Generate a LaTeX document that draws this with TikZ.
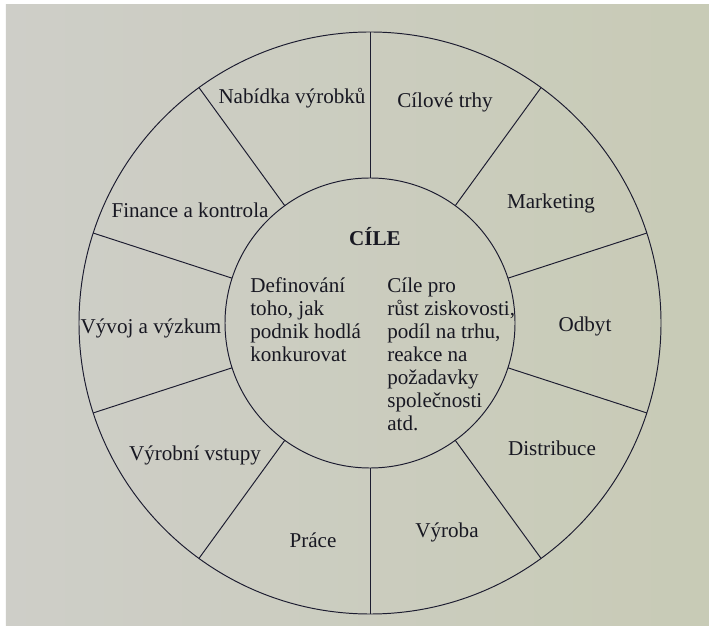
\documentclass[tikz,border=0pt]{standalone}
\usepackage{fontspec}
\setmainfont{Liberation Serif}
\usetikzlibrary{positioning}

\definecolor{inkline}{RGB}{28,28,48}
\definecolor{inktext}{RGB}{24,24,34}
\definecolor{paperl}{RGB}{206,206,200}
\definecolor{paperr}{RGB}{200,203,182}

\begin{document}
\begin{tikzpicture}[
	wheel/.style={draw=inkline,line width=0.55pt},
	lbl/.style={text=inktext,font=\fontsize{12}{13.1}\selectfont,inner sep=0pt},
	block/.style={lbl,align=left,anchor=north west}]
	\useasboundingbox (0,0) rectangle (14.18,12.5);
	\fill[white] (0,0) rectangle (14.18,12.5);
	\shade[left color=paperl,right color=paperr] (0.12,0) rectangle (14.18,12.40);

	\begin{scope}[shift={(7.40,6.04)}]
	\draw[wheel] (0,0) circle (5.82);
	\draw[wheel] (0,0) circle (2.90);

	\draw[wheel] (90:2.90) -- (90:5.82);
	\draw[wheel] (54:2.90) -- (54:5.82);
	\draw[wheel] (18:2.90) -- (18:5.82);
	\draw[wheel] (-18:2.90) -- (-18:5.82);
	\draw[wheel] (-54:2.90) -- (-54:5.82);
	\draw[wheel] (-90:2.90) -- (-90:5.82);
	\draw[wheel] (-126:2.90) -- (-126:5.82);
	\draw[wheel] (-162:2.90) -- (-162:5.82);
	\draw[wheel] (162:2.90) -- (162:5.82);
	\draw[wheel] (126:2.90) -- (126:5.82);
	\end{scope}

	% outer ring
	\node[lbl] (nabidka) at (5.84,10.54) {Nabídka výrobků};
	\node[lbl] (trhy) at (8.90,10.46) {Cílové trhy};
	\node[lbl] (marketing) at (11.02,8.44) {Marketing};
	\node[lbl] (odbyt) at (11.70,5.98) {Odbyt};
	\node[lbl] (distribuce) at (11.04,3.54) {Distribuce};
	\node[lbl] (vyroba) at (8.94,1.86) {Výroba};
	\node[lbl] (prace) at (6.26,1.70) {Práce};
	\node[lbl] (vstupy) at (3.90,3.40) {Výrobní vstupy};
	\node[lbl] (vyvoj) at (3.02,5.94) {Vývoj a výzkum};
	\node[lbl] (finance) at (3.80,8.30) {Finance a kontrola};

	% centre
	\node[lbl,font=\fontsize{12}{13.1}\selectfont\bfseries] (cile) at (7.50,7.76) {CÍLE};
	\node[block] (jak) at (5.00,6.96) {Definování\\toho, jak\\podnik hodlá\\konkurovat};
	\node[block] (pro) at (7.74,6.96) {Cíle pro\\růst ziskovosti,\\podíl na trhu,\\reakce na\\požadavky\\společnosti\\atd.};
\end{tikzpicture}
\end{document}
